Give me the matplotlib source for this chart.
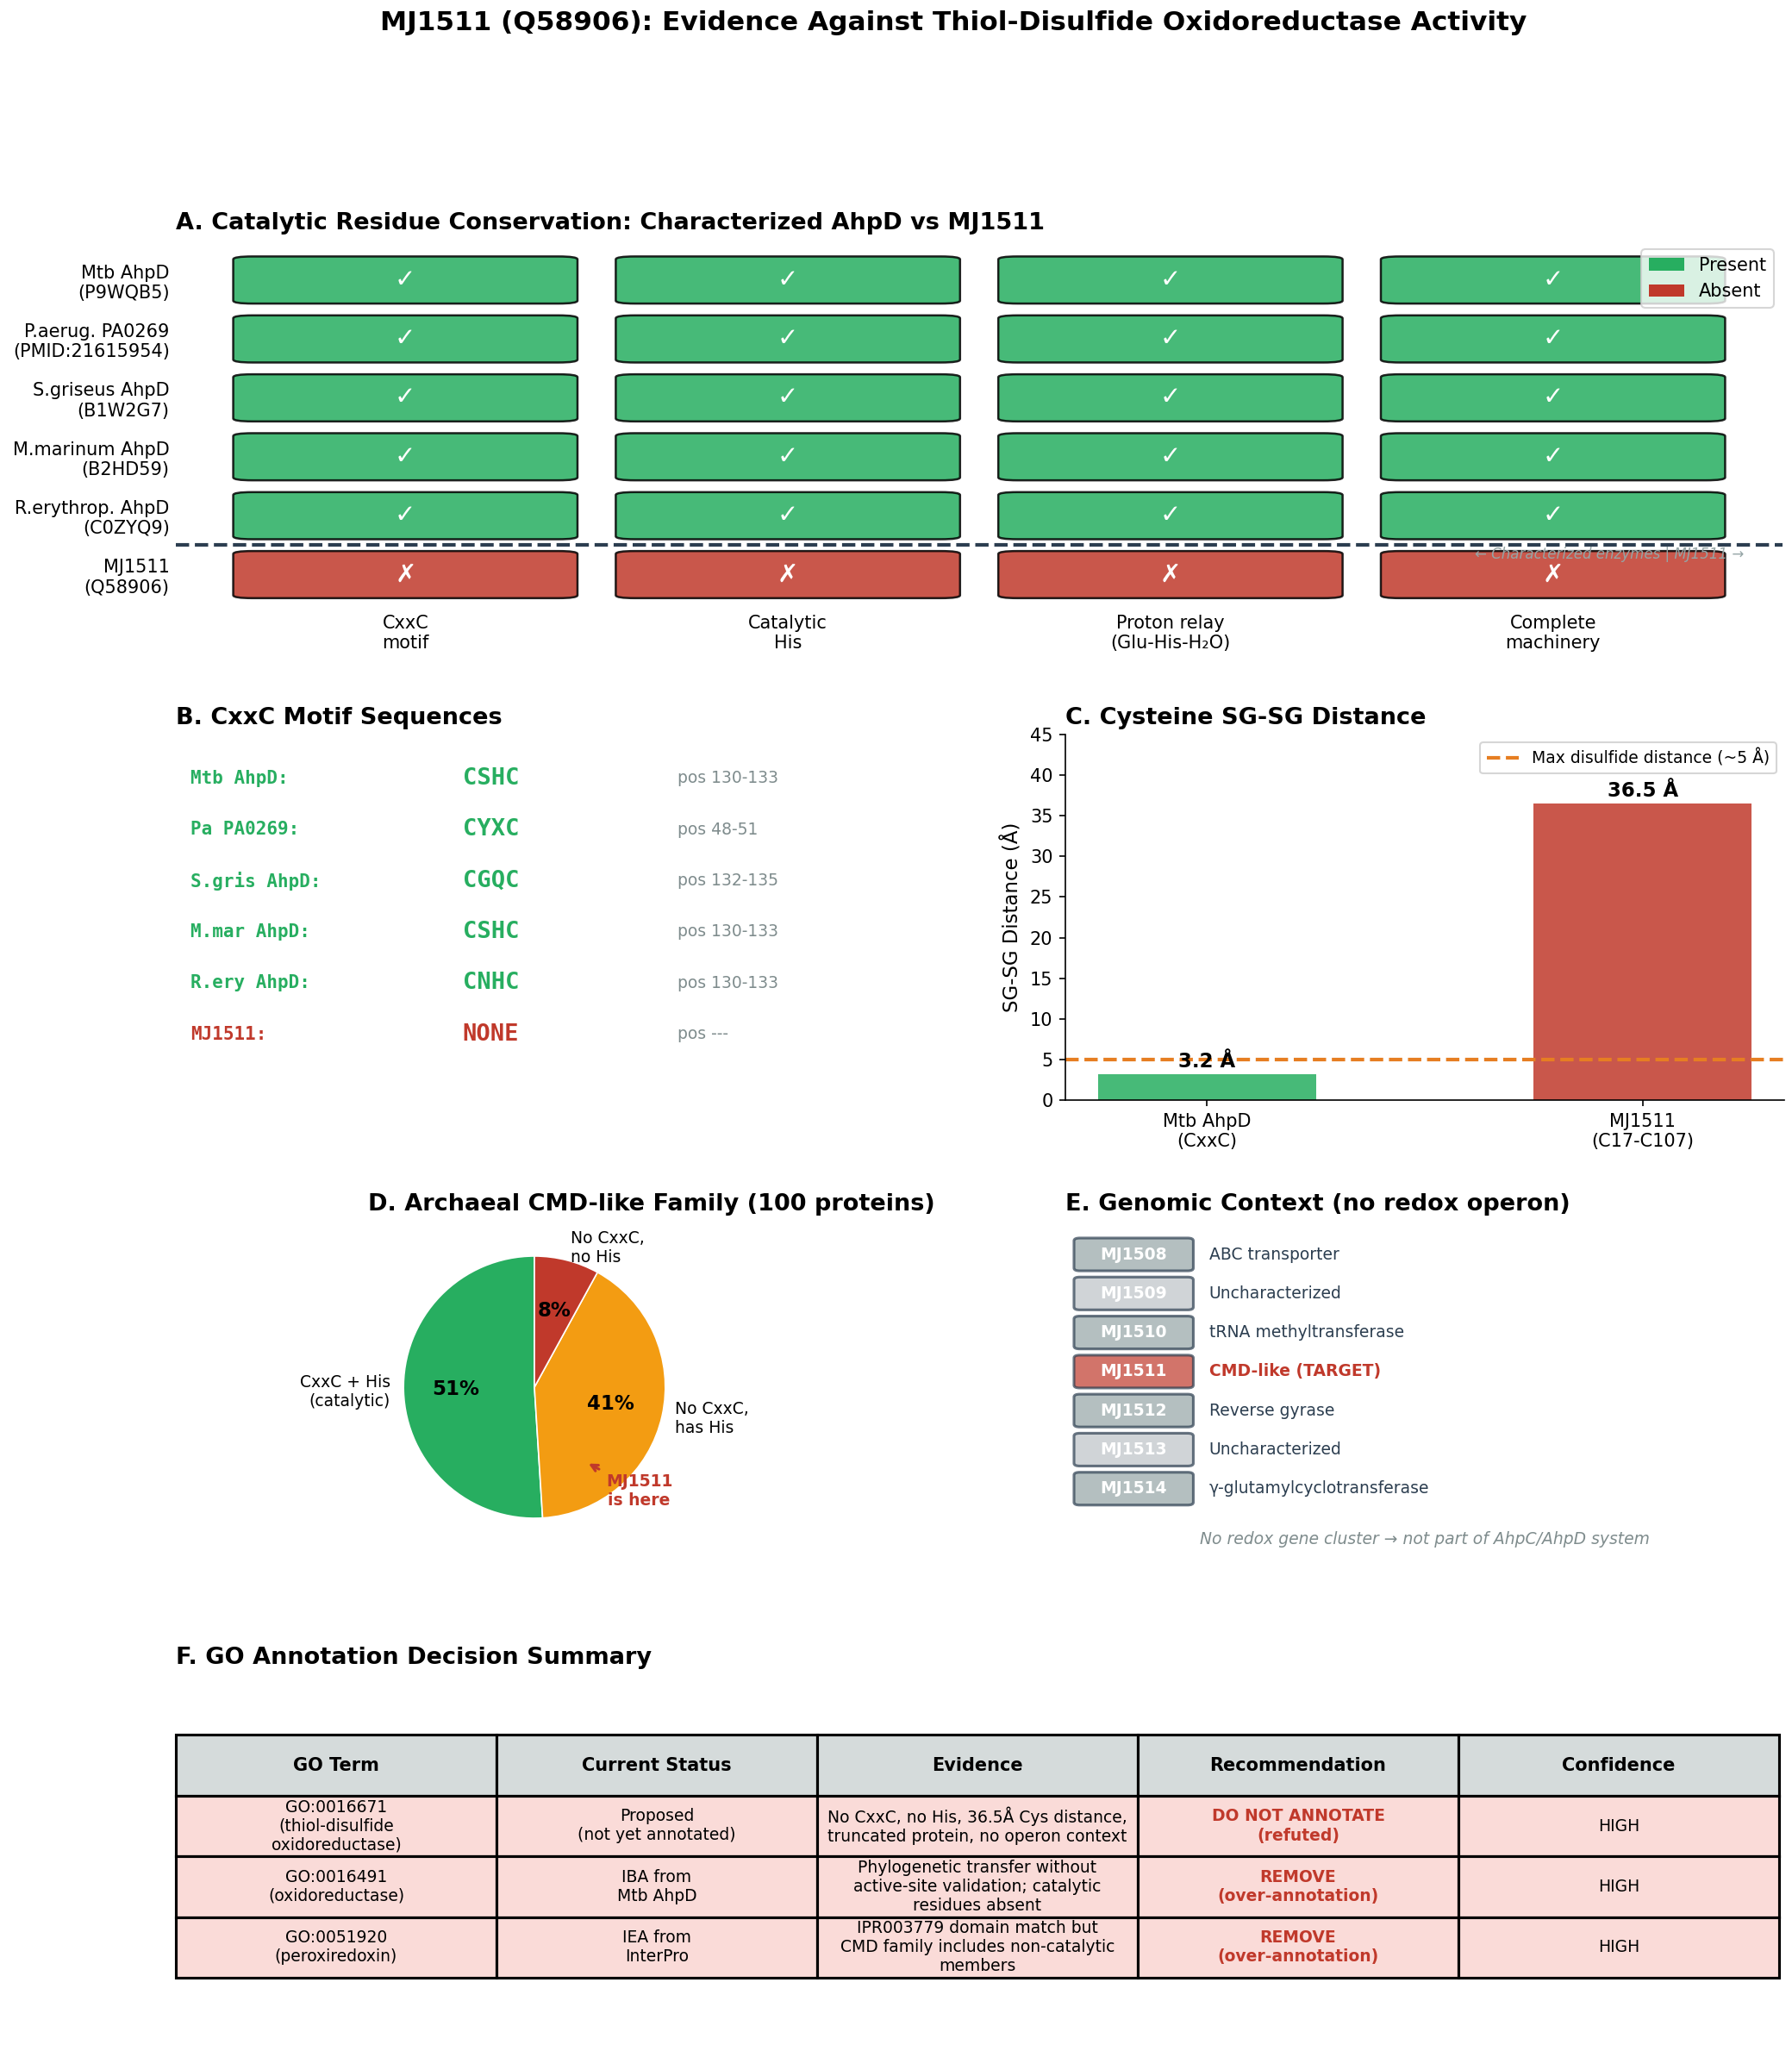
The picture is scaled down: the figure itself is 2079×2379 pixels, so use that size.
import matplotlib
matplotlib.use('Agg')
import matplotlib.pyplot as plt
from matplotlib.patches import FancyBboxPatch, Patch

# colours
GREEN = '#27ae60'
RED = '#c0392b'
ORANGE = '#f39c12'
DARK = '#2c3e50'
GREY = '#7f8c8d'

# ---- data ----
species = ['Mtb AhpD\n(P9WQB5)', 'P.aerug. PA0269\n(PMID:21615954)',
           'S.griseus AhpD\n(B1W2G7)', 'M.marinum AhpD\n(B2HD59)',
           'R.erythrop. AhpD\n(C0ZYQ9)', 'MJ1511\n(Q58906)']
features = ['CxxC\nmotif', 'Catalytic\nHis', 'Proton relay\n(Glu-His-H\u2082O)',
            'Complete\nmachinery']
presence = [[1, 1, 1, 1],
            [1, 1, 1, 1],
            [1, 1, 1, 1],
            [1, 1, 1, 1],
            [1, 1, 1, 1],
            [0, 0, 0, 0]]

motif_names = ['Mtb AhpD:', 'Pa PA0269:', 'S.gris AhpD:', 'M.mar AhpD:',
               'R.ery AhpD:', 'MJ1511:']
motifs = ['CSHC', 'CYXC', 'CGQC', 'CSHC', 'CNHC', 'NONE']
motif_pos = ['pos 130-133', 'pos 48-51', 'pos 132-135', 'pos 130-133',
             'pos 130-133', 'pos ---']

dist_labels = ['Mtb AhpD\n(CxxC)', 'MJ1511\n(C17-C107)']
dist_values = [3.2, 36.5]
disulfide_max = 5

pie_labels = ['CxxC + His\n(catalytic)', 'No CxxC,\nhas His', 'No CxxC,\nno His']
pie_sizes = [51, 41, 8]

genes = ['MJ1508', 'MJ1509', 'MJ1510', 'MJ1511', 'MJ1512', 'MJ1513', 'MJ1514']
gene_funcs = ['ABC transporter', 'Uncharacterized', 'tRNA methyltransferase',
              'CMD-like (TARGET)', 'Reverse gyrase', 'Uncharacterized',
              '\u03b3-glutamylcyclotransferase']
gene_colors = ['#95a5a6', '#bdc3c7', '#95a5a6', RED, '#95a5a6', '#bdc3c7', '#95a5a6']

table_header = ['GO Term', 'Current Status', 'Evidence', 'Recommendation', 'Confidence']
table_rows = [
    ['GO:0016671\n(thiol-disulfide\noxidoreductase)', 'Proposed\n(not yet annotated)',
     'No CxxC, no His, 36.5\u00c5 Cys distance,\ntruncated protein, no operon context',
     'DO NOT ANNOTATE\n(refuted)', 'HIGH'],
    ['GO:0016491\n(oxidoreductase)', 'IBA from\nMtb AhpD',
     'Phylogenetic transfer without\nactive-site validation; catalytic\nresidues absent',
     'REMOVE\n(over-annotation)', 'HIGH'],
    ['GO:0051920\n(peroxiredoxin)', 'IEA from\nInterPro',
     'IPR003779 domain match but\nCMD family includes non-catalytic\nmembers',
     'REMOVE\n(over-annotation)', 'HIGH'],
]

W, H = 2079, 2379
fig = plt.figure(figsize=(W / 150, H / 150), dpi=150)


def place(x0, y0, x1, y1):
    # axes from pixel box (top-left origin)
    return fig.add_axes([x0 / W, 1 - y1 / H, (x1 - x0) / W, (y1 - y0) / H])


fig.text(1106 / W, 1 - 35 / H,
         'MJ1511 (Q58906): Evidence Against Thiol-Disulfide Oxidoreductase Activity',
         ha='center', va='baseline', fontsize=15, fontweight='bold')

# ---- A: conservation grid ----
axA = place(204, 279, 2068, 769)
n = len(species)
for i, sp in enumerate(species):
    y = n - 1 - i
    for j in range(len(features)):
        ok = presence[i][j]
        axA.add_patch(FancyBboxPatch((j - 0.4, y - 0.35), 0.8, 0.7,
                                     boxstyle='round,pad=0.05',
                                     facecolor=GREEN if ok else RED, alpha=0.85,
                                     edgecolor='black', linewidth=1.2))
        axA.text(j, y, '\u2713' if ok else '\u2717', ha='center', va='center',
                 fontsize=14, color='white', fontweight='bold')
for j, f in enumerate(features):
    axA.text(j, -1, f, ha='center', va='center', fontsize=10)
axA.axhline(0.5, color=DARK, linestyle='--', linewidth=2)
axA.text(3.5, 0.35, '\u2190 Characterized enzymes | MJ1511 \u2192', ha='right',
         va='center', fontsize=8, style='italic', color='#95a5a6')
axA.set_xlim(-0.6, 3.6)
axA.set_ylim(-1.5, 5.67)
axA.set_yticks(range(n))
axA.set_yticklabels(species[::-1], fontsize=10)
axA.set_xticks([])
axA.tick_params(left=False, length=0)
for s in axA.spines.values():
    s.set_visible(False)
axA.legend(handles=[Patch(facecolor=GREEN, label='Present'),
                    Patch(facecolor=RED, label='Absent')],
           loc='upper right', fontsize=10)
axA.set_title('A. Catalytic Residue Conservation: Characterized AhpD vs MJ1511',
              loc='left', fontsize=13, fontweight='bold')

# ---- B: motif sequences ----
axB = place(204, 852, 1036, 1276)
axB.axis('off')
axB.set_xlim(0, 1)
axB.set_ylim(0, 1)
for i, (nm, mo, ps) in enumerate(zip(motif_names, motifs, motif_pos)):
    y = 0.88 - 0.14 * i
    col = RED if mo == 'NONE' else GREEN
    axB.text(0.02, y, nm, ha='left', va='center', fontsize=10, family='DejaVu Sans Mono',
             fontweight='bold', color=col)
    axB.text(0.4, y, mo, ha='left', va='center', fontsize=13, family='DejaVu Sans Mono',
             fontweight='bold', color=col)
    axB.text(0.7, y, ps, ha='left', va='center', fontsize=9, color=GREY)
axB.set_title('B. CxxC Motif Sequences', loc='left', fontsize=13, fontweight='bold')

# ---- C: SG-SG distance ----
axC = place(1236, 852, 2070, 1276)
xs = range(len(dist_values))
axC.bar(xs, dist_values, width=0.5, color=[GREEN, RED], alpha=0.85)
axC.axhline(disulfide_max, color='#e67e22', linestyle='--', linewidth=2,
            label='Max disulfide distance (~5 \u00c5)')
for x, v in zip(xs, dist_values):
    axC.text(x, v + 0.3, f'{v} \u00c5', ha='center', va='bottom', fontsize=11,
             fontweight='bold')
axC.set_xticks(list(xs))
axC.set_xticklabels(dist_labels, fontsize=10)
axC.set_ylim(0, 45)
axC.set_ylabel('SG-SG Distance (\u00c5)', fontsize=11)
axC.spines['top'].set_visible(False)
axC.spines['right'].set_visible(False)
axC.legend(loc='upper right', fontsize=9)
axC.set_title('C. Cysteine SG-SG Distance', loc='left', fontsize=13, fontweight='bold')

# ---- D: pie ----
axD = place(204, 1417, 1036, 1801)
wedges, texts, autotexts = axD.pie(pie_sizes, labels=pie_labels,
                                   colors=[GREEN, ORANGE, RED], autopct='%1.0f%%',
                                   startangle=90, textprops={'fontsize': 9},
                                   wedgeprops={'edgecolor': 'white', 'linewidth': 0.8})
for t in autotexts:
    t.set_fontsize(11)
    t.set_fontweight('bold')
axD.set_aspect('auto')
axD.set_xlim(-2.74, 2.74)
axD.set_ylim(-1.263, 1.263)
axD.annotate('MJ1511\nis here', xy=(0.39, -0.57), xytext=(0.8, -0.79),
             ha='center', va='center', fontsize=9, fontweight='bold', color=RED,
             arrowprops=dict(arrowstyle='->', color=RED, lw=1.5))
axD.set_title('D. Archaeal CMD-like Family (100 proteins)', x=0.663,
              fontsize=13, fontweight='bold')

# ---- E: genomic context ----
axE = place(1236, 1417, 2070, 1801)
axE.axis('off')
axE.set_xlim(0, 1)
axE.set_ylim(-1.64, 6.84)
for i, (g, fn, gc) in enumerate(zip(genes, gene_funcs, gene_colors)):
    y = len(genes) - 1 - i
    target = g == 'MJ1511'
    axE.add_patch(FancyBboxPatch((0.02, y - 0.35), 0.15, 0.7,
                                 boxstyle='round,pad=0.008', mutation_aspect=8.75,
                                 facecolor=gc, alpha=0.7, edgecolor=DARK, linewidth=1.5))
    axE.text(0.095, y, g, ha='center', va='center', fontsize=9, fontweight='bold',
             color='white')
    axE.text(0.2, y, fn, ha='left', va='center', fontsize=9,
             color=RED if target else DARK, fontweight='bold' if target else 'normal')
axE.text(0.5, -1.3, 'No redox gene cluster \u2192 not part of AhpC/AhpD system',
         ha='center', va='center', fontsize=9, style='italic', color=GREY)
axE.set_title('E. Genomic Context (no redox operon)', loc='left', fontsize=13,
              fontweight='bold')

# ---- F: table ----
axF = place(204, 1942, 2064, 2294)
axF.axis('off')
tbl = axF.table(cellText=table_rows, colLabels=table_header, cellLoc='center',
                bbox=[0, 0, 1, 0.8])
tbl.auto_set_font_size(False)
tbl.set_fontsize(9)
for (r, c), cell in tbl.get_celld().items():
    cell.set_linewidth(1.5)
    if r == 0:
        cell.set_facecolor('#d5dbdb')
        cell.get_text().set_fontweight('bold')
        cell.get_text().set_fontsize(10)
    else:
        cell.set_facecolor('#fadbd8')
        if c == 3:
            cell.get_text().set_color(RED)
            cell.get_text().set_fontweight('bold')
axF.set_title('F. GO Annotation Decision Summary', loc='left', fontsize=13,
              fontweight='bold')

fig.savefig('out.png', dpi=150)
